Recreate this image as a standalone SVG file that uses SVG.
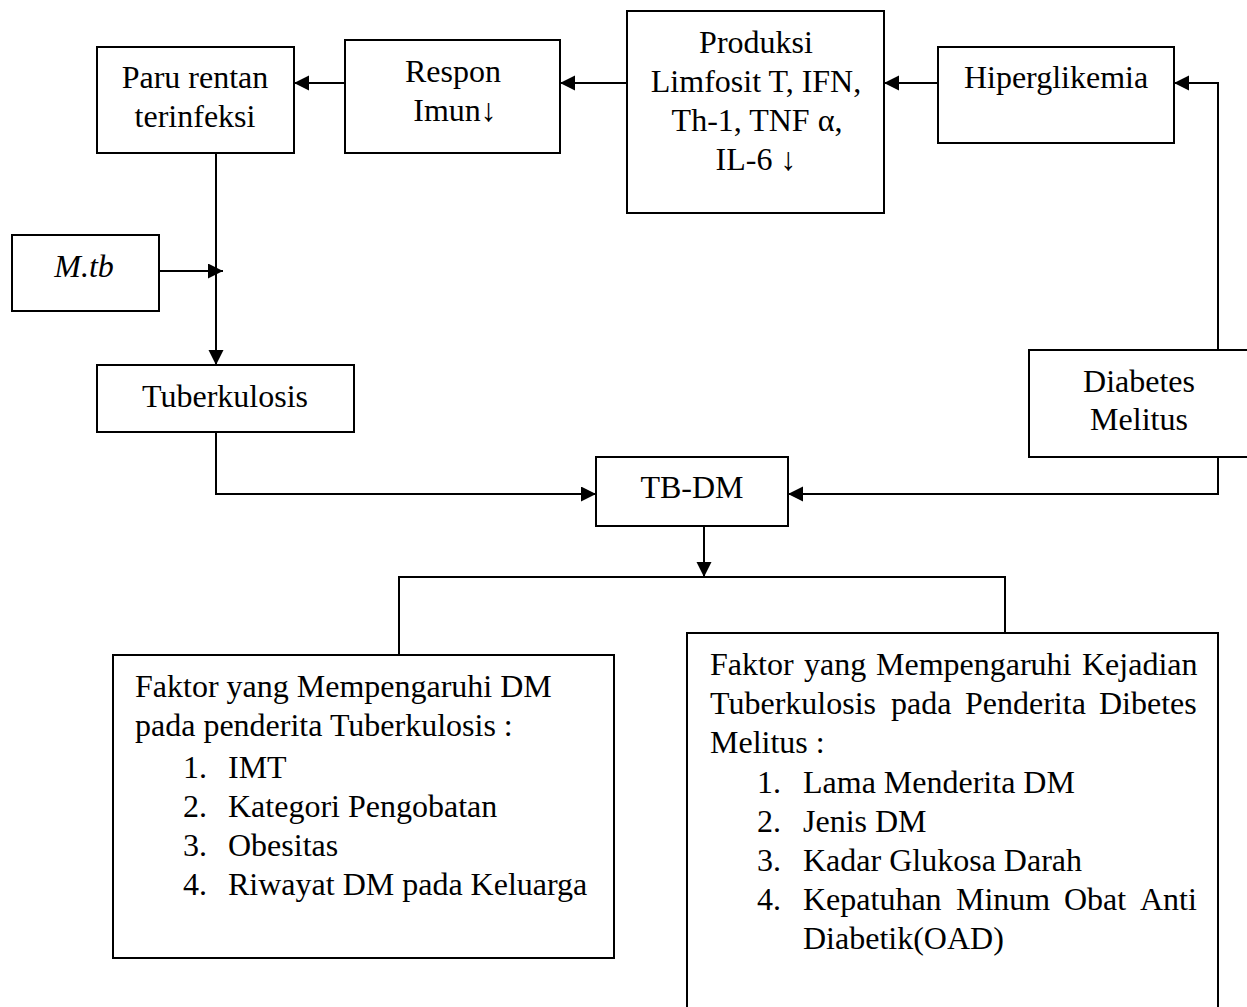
<svg xmlns="http://www.w3.org/2000/svg" width="1247" height="1007" viewBox="0 0 1247 1007">
<style>
text { font-family: "Liberation Serif", "Times New Roman", serif; font-size: 32px; fill: #000; }
.c { text-anchor: middle; }
.box { fill: #fff; stroke: #000; stroke-width: 2; }
.ln { fill: none; stroke: #000; stroke-width: 2; }
</style>
<defs>
<marker id="ah" markerUnits="userSpaceOnUse" markerWidth="16" markerHeight="16" refX="15" refY="7.5" orient="auto">
<path d="M0,0 L15,7.5 L0,15 z" fill="#000"/>
</marker>
</defs>
<rect width="1247" height="1007" fill="#fff"/>

<g id="connectors">
<path class="ln" d="M345,83 H294" marker-end="url(#ah)"/>
<path class="ln" d="M627,83 H560" marker-end="url(#ah)"/>
<path class="ln" d="M938,83 H884" marker-end="url(#ah)"/>
<path class="ln" d="M1218,350 V83 H1174" marker-end="url(#ah)"/>
<path class="ln" d="M216,153 V365" marker-end="url(#ah)"/>
<path class="ln" d="M159,271 H223" marker-end="url(#ah)"/>
<path class="ln" d="M216,432 V494 H596" marker-end="url(#ah)"/>
<path class="ln" d="M1218,457 V494 H788" marker-end="url(#ah)"/>
<path class="ln" d="M704,526 V577" marker-end="url(#ah)"/>
<path class="ln" d="M399,655 V577 H1005 V633"/>
</g>

<g id="paru">
<rect class="box" x="97" y="47" width="197" height="106"/>
<text class="c" x="195" y="88">Paru rentan</text>
<text class="c" x="195" y="127">terinfeksi</text>
</g>

<g id="respon">
<rect class="box" x="345" y="40" width="215" height="113"/>
<text class="c" x="453" y="82">Respon</text>
<text class="c" x="455" y="121">Imun↓</text>
</g>

<g id="produksi">
<rect class="box" x="627" y="11" width="257" height="202"/>
<text class="c" x="756" y="53">Produksi</text>
<text class="c" x="756" y="92">Limfosit T, IFN,</text>
<text class="c" x="757" y="131">Th-1, TNF α,</text>
<text class="c" x="756" y="170">IL-6 ↓</text>
</g>

<g id="hiperglikemia">
<rect class="box" x="938" y="47" width="236" height="96"/>
<text class="c" x="1056" y="88">Hiperglikemia</text>
</g>

<g id="mtb">
<rect class="box" x="12" y="235" width="147" height="76"/>
<text class="c" x="84" y="277" font-style="italic">M.tb</text>
</g>

<g id="tuberkulosis">
<rect class="box" x="97" y="365" width="257" height="67"/>
<text class="c" x="225" y="407">Tuberkulosis</text>
</g>

<g id="diabetes">
<rect class="box" x="1029" y="350" width="240" height="107"/>
<text class="c" x="1139" y="392">Diabetes</text>
<text class="c" x="1139" y="430">Melitus</text>
</g>

<g id="tbdm">
<rect class="box" x="596" y="457" width="192" height="69"/>
<text class="c" x="692" y="498">TB-DM</text>
</g>

<g id="faktor-dm">
<rect class="box" x="113" y="655" width="501" height="303"/>
<text x="135" y="697">Faktor yang Mempengaruhi DM</text>
<text x="135" y="736">pada penderita Tuberkulosis :</text>
<text x="183" y="778">1.</text><text x="228" y="778">IMT</text>
<text x="183" y="817">2.</text><text x="228" y="817">Kategori Pengobatan</text>
<text x="183" y="856">3.</text><text x="228" y="856">Obesitas</text>
<text x="183" y="895">4.</text><text x="228" y="895">Riwayat DM pada Keluarga</text>
</g>

<g id="faktor-tb">
<path class="box" d="M687,1020 V633 H1218 V1020"/>
<text y="675"><tspan x="710">Faktor</tspan><tspan x="804">yang</tspan><tspan x="876">Mempengaruhi</tspan><tspan x="1082">Kejadian</tspan></text>
<text y="714"><tspan x="710">Tuberkulosis</tspan><tspan x="891">pada</tspan><tspan x="965">Penderita</tspan><tspan x="1099">Dibetes</tspan></text>
<text x="710" y="753">Melitus :</text>
<text x="757" y="793">1.</text><text x="803" y="793">Lama Menderita DM</text>
<text x="757" y="832">2.</text><text x="803" y="832">Jenis DM</text>
<text x="757" y="871">3.</text><text x="803" y="871">Kadar Glukosa Darah</text>
<text x="757" y="910">4.</text>
<text y="910"><tspan x="803">Kepatuhan</tspan><tspan x="956">Minum</tspan><tspan x="1064">Obat</tspan><tspan x="1140">Anti</tspan></text>
<text x="803" y="949">Diabetik(OAD)</text>
</g>
</svg>
